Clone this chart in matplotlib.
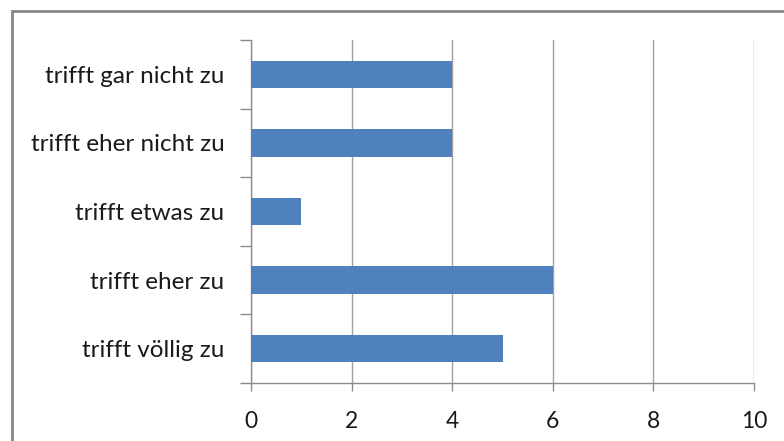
import matplotlib
matplotlib.use("Agg")
import matplotlib.pyplot as plt
from matplotlib.patches import Rectangle
import numpy as np

categories = ["trifft gar nicht zu",
              "trifft eher nicht zu",
              "trifft etwas zu",
              "trifft eher zu",
              "trifft völlig zu"]
values = [4, 4, 1, 6, 5]
xticks = [0, 2, 4, 6, 8, 10]

plt.rcParams["font.family"] = ["Lato", "DejaVu Sans"]

fig = plt.figure(figsize=(7.84, 4.41), dpi=100)
ax = fig.add_axes([251/784, 58/441, 503/784, 343/441])

pos = np.arange(len(categories))
ax.barh(pos, values, height=0.4, color="#4F81BD", zorder=3)

ax.set_xlim(0, 10)
ax.set_ylim(len(categories) - 0.5, -0.5)
ax.set_xticks(xticks)
ax.set_xticklabels([str(t) for t in xticks], fontsize=16.5, color="#1a1a1a")
ax.tick_params(axis="x", length=6, width=1, color="#8c8c8c", pad=14)
ax.grid(axis="x", color="#a0a0a0", linewidth=1, zorder=0)

ax.set_yticks(np.arange(-0.5, len(categories), 1))
ax.set_yticklabels([])
ax.tick_params(axis="y", which="major", length=8, width=1, color="#8c8c8c")
ax.set_yticks(pos, minor=True)
ax.set_yticklabels(categories, minor=True, fontsize=17.5, color="#1a1a1a")
ax.tick_params(axis="y", which="minor", length=0, pad=19)

for side in ["top", "right"]:
    ax.spines[side].set_visible(False)
for side in ["left", "bottom"]:
    ax.spines[side].set_color("#8c8c8c")
    ax.spines[side].set_linewidth(1)

# outer chart border (runs off the right and bottom edge)
fig.patches.append(Rectangle((12/784, -0.05), 1.0, 1 - 11/441 + 0.05,
                             transform=fig.transFigure, fill=False,
                             edgecolor="#868686", linewidth=2))

plt.savefig("out.png", dpi=100)
